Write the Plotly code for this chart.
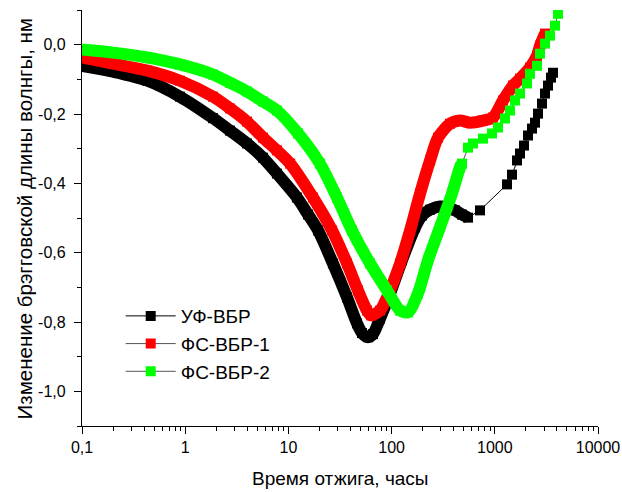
import plotly.graph_objects as go

# ---------------- data ----------------
# Annealing time, hours
uf_t = [0.1, 0.2, 0.43, 0.89, 1.86, 2.72, 3.97, 5.67, 7.75, 12.1, 15.5, 19.4, 27.0,
        37.0, 46.2, 51.7, 59.0, 66.0, 77.2, 96.5, 126, 169, 197, 236, 294, 352,
        412, 481, 550,
        719, 1313, 1468, 1641, 1755, 1919, 2098, 2294, 2452, 2622, 2867, 3065,
        3278, 3504, 3664]
uf_v = [-0.061, -0.078, -0.104, -0.150, -0.212, -0.248, -0.285, -0.326, -0.372,
        -0.441, -0.490, -0.536, -0.631, -0.729, -0.804, -0.832, -0.844, -0.835,
        -0.790, -0.718, -0.622, -0.527, -0.493, -0.476, -0.467, -0.470, -0.478,
        -0.490, -0.499,
        -0.478, -0.403, -0.375, -0.334, -0.314, -0.291, -0.262, -0.242, -0.225,
        -0.199, -0.170, -0.141, -0.118, -0.095, -0.081]
uf_dense_until = 550

fs1_t = [0.1, 0.2, 0.43, 0.89, 1.86, 2.72, 3.97, 5.67, 7.75, 10.4, 17.3, 26.5,
         37.0, 47.2, 57.8, 63.2, 77.2, 90.2, 121, 151, 189, 236, 282, 368, 460,
         575, 769, 961, 1201, 1501, 1755, 2194, 2564, 2742, 3065]
fs1_v = [-0.037, -0.055, -0.075, -0.104, -0.150, -0.184, -0.222, -0.268, -0.305,
         -0.343, -0.441, -0.536, -0.631, -0.709, -0.767, -0.781, -0.767, -0.729,
         -0.631, -0.536, -0.429, -0.334, -0.268, -0.228, -0.219, -0.225, -0.219,
         -0.210, -0.161, -0.118, -0.098, -0.066, -0.032, -0.003, 0.032]
fs1_dense_until = 3065

fs2_t = [0.1, 0.2, 0.43, 0.89, 1.86, 2.72, 3.97, 5.67, 7.75, 12.4, 20.2, 29.6,
         41.3, 61.8, 90.2, 121, 144, 180, 225, 294, 385, 460, 481,
         550, 615, 769, 940, 1074, 1256, 1404, 1570, 1755, 2051, 2194, 2564,
         2742, 3065, 3427, 3831, 4097]
fs2_v = [-0.014, -0.023, -0.037, -0.057, -0.086, -0.110, -0.135, -0.164, -0.190,
         -0.256, -0.343, -0.441, -0.536, -0.631, -0.709, -0.767, -0.772, -0.718,
         -0.622, -0.527, -0.429, -0.354, -0.343,
         -0.297, -0.285, -0.271, -0.256, -0.239, -0.213, -0.190, -0.161, -0.141,
         -0.112, -0.084, -0.061, -0.026, 0.003, 0.026, 0.055, 0.089]
fs2_dense_until = 481

series_names = ["УФ-ВБР", "ФС-ВБР-1", "ФС-ВБР-2"]

x_tick_vals = [0.1, 1, 10, 100, 1000, 10000]
x_tick_text = ["0,1", "1", "10", "100", "1000", "10000"]
y_tick_vals = [0.0, -0.2, -0.4, -0.6, -0.8, -1.0]
y_tick_text = ["0,0", "-0,2", "-0,4", "-0,6", "-0,8", "-1,0"]

x_title = "Время отжига, часы"
y_title = "Изменение брэгговской длины волнгы, нм"

# ---------------- figure ----------------
FONT = "Liberation Sans, Arial, sans-serif"
series = [
    (series_names[0], uf_t, uf_v, uf_dense_until, "#000000", "#000000"),
    (series_names[1], fs1_t, fs1_v, fs1_dense_until, "#ff0000", "#555555"),
    (series_names[2], fs2_t, fs2_v, fs2_dense_until, "#00ff00", "#555555"),
]

fig = go.Figure()
for name, t, v, cut, col, lcol in series:
    fig.add_trace(go.Scatter(
        x=t, y=v, name=name, mode="lines+markers",
        line=dict(color=lcol, width=1),
        marker=dict(symbol="square", size=10, color=col, line=dict(width=0)),
    ))
    bt = [a for a in t if a <= cut]
    bv = [b for a, b in zip(t, v) if a <= cut]
    fig.add_trace(go.Scatter(
        x=bt, y=bv, mode="lines", showlegend=False, hoverinfo="skip",
        line=dict(color=col, width=12, shape="spline", smoothing=0.8),
    ))

minor_x = [m * 10 ** e for e in range(-1, 4) for m in range(2, 10)]
minor_y = [0.1, -0.1, -0.3, -0.5, -0.7, -0.9, -1.1]

fig.update_layout(
    width=622, height=492,
    margin=dict(l=82, r=24, t=10, b=66),
    paper_bgcolor="white", plot_bgcolor="white",
    font=dict(family=FONT, size=16, color="black"),
    showlegend=True,
    legend=dict(x=0.075, y=0.31, xanchor="left", yanchor="top",
                bgcolor="rgba(0,0,0,0)", font=dict(size=19, family=FONT),
                tracegroupgap=0, itemwidth=50),
    xaxis=dict(type="log", range=[-1, 4], showgrid=False, zeroline=False,
               showline=True, linecolor="black", linewidth=1.3,
               ticks="outside", ticklen=7, tickwidth=1.3, tickcolor="black",
               tickvals=x_tick_vals, ticktext=x_tick_text,
               tickfont=dict(size=16), automargin=False,
               minor=dict(ticks="outside", ticklen=4, tickwidth=1.2,
                          tickcolor="black", tickvals=minor_x, showgrid=False)),
    yaxis=dict(range=[-1.1, 0.1], showgrid=False, zeroline=False,
               showline=True, linecolor="black", linewidth=1.3,
               ticks="outside", ticklen=7, tickwidth=1.3, tickcolor="black",
               tickvals=y_tick_vals, ticktext=y_tick_text,
               tickfont=dict(size=16), ticklabelstandoff=5, automargin=False,
               minor=dict(ticks="outside", ticklen=4, tickwidth=1.2,
                          tickcolor="black", tickvals=minor_y, showgrid=False)),
    annotations=[
        dict(text=x_title, xref="paper", yref="paper", x=0.5, y=-0.127,
             xanchor="center", yanchor="middle", showarrow=False,
             font=dict(size=19, family=FONT)),
        dict(text=y_title, xref="paper", yref="paper", x=-0.112, y=0.497,
             xanchor="center", yanchor="middle", showarrow=False, textangle=-90,
             font=dict(size=20.5, family=FONT)),
    ],
)

fig.write_html("out.html",
               config={"displayModeBar": False},
               post_script="document.body.style.margin='0';"
                           "document.body.style.overflow='hidden';")
